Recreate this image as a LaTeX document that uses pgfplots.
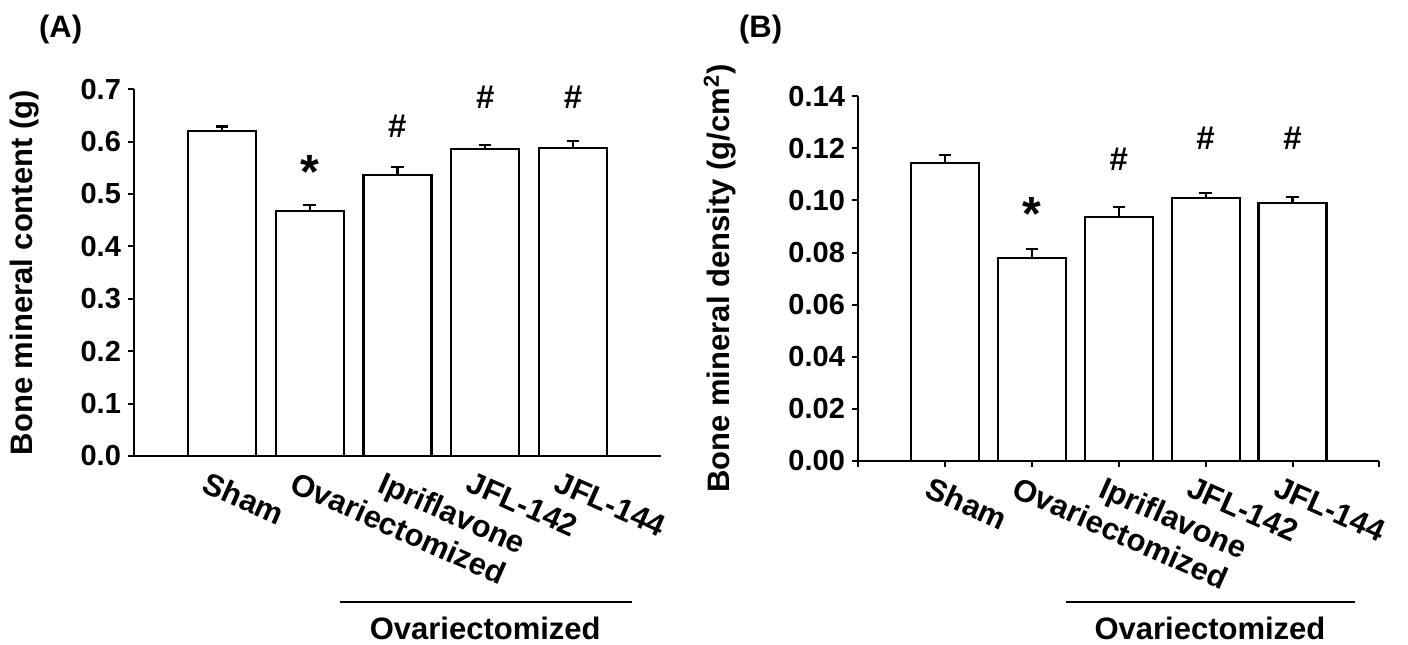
\documentclass[border=0pt]{standalone}
\usepackage{fontspec}
\setmainfont{Liberation Sans}
\usepackage{pgfplots}
\pgfplotsset{compat=1.18}
\tikzset{
  sigmark/.style={anchor=north, inner sep=0pt, font=\fontsize{16.5}{19}\selectfont\bfseries},
  starmark/.style={anchor=north, inner sep=0pt, font=\fontsize{24}{28}\selectfont\bfseries},
}
\begin{document}
\begin{tikzpicture}
\path[use as bounding box] (0,0) rectangle (704pt,322pt);
\pgfplotsset{
  myaxis/.style={
    scale only axis,
    anchor=south west,
    axis lines=left,
    axis line style={-, line width=1pt},
    xmin=0, xmax=6,
    ymin=0,
    clip=false,
    tick align=outside,
    major tick length=3pt,
    tick style={line width=1pt, black},
    font=\fontsize{15.5}{18}\selectfont\bfseries,
    tick label style={font=\fontsize{14.5}{17}\selectfont\bfseries},
    /pgf/number format/assume math mode=true,
    xtick={1,2,3,4,5},
    xticklabels={Sham,Ovariectomized,Ipriflavone,JFL-142,JFL-144},
    xticklabel style={xshift=-6pt, yshift=-4pt, rotate=-24, anchor=north west, inner sep=0pt, font=\fontsize{15.5}{18}\selectfont\bfseries},
    ybar, bar shift=0pt, bar width=34pt,
    error bars/y dir=plus, error bars/y explicit,
    error bars/error bar style={line width=1.1pt, black},
    error bars/error mark options={rotate=90, mark size=3.1pt, line width=1.1pt, black},
  },
}
% Panel A
\node[anchor=west, font=\fontsize{15.5}{18}\selectfont\bfseries] at (16pt,307.5pt) {(A)};
\begin{axis}[myaxis,
  at={(67pt,94pt)}, width=263.4pt, height=183.4pt,
  ymax=0.7, ytick={0,0.1,...,0.7},
  yticklabel style={/pgf/number format/.cd, fixed, fixed zerofill, precision=1},
  xtick style={draw=none},
  ylabel={Bone mineral content (g)},
  ylabel style={at={(axis description cs:-0.207,0.5)}, anchor=center, rotate=0},
]
\addplot[fill=white, draw=black, line width=1.1pt] coordinates {
  (1,0.621) +- (0,0.008)
  (2,0.467) +- (0,0.012)
  (3,0.536) +- (0,0.015)
  (4,0.586) +- (0,0.007)
  (5,0.588) +- (0,0.013)
};
\node[starmark] at (axis cs:2,0.574) {*};
\node[sigmark] at (axis cs:3,0.652) {\#};
\node[sigmark] at (axis cs:4,0.707) {\#};
\node[sigmark] at (axis cs:5,0.707) {\#};
\draw[line width=1.2pt] (axis cs:2.35,-0.279) -- (axis cs:5.67,-0.279);
\node[anchor=north, inner sep=0pt] at (axis cs:4.0,-0.307) {Ovariectomized};
\end{axis}
% Panel B
\node[anchor=west, font=\fontsize{15.5}{18}\selectfont\bfseries] at (366pt,307.5pt) {(B)};
\begin{axis}[myaxis,
  at={(429pt,91.5pt)}, width=260.7pt, height=182.4pt,
  ymax=0.14, ytick={0,0.02,...,0.14},
  yticklabel style={/pgf/number format/.cd, fixed, fixed zerofill, precision=2},
  xtick={0,1,2,3,4,5,6},
  xticklabels={,Sham,Ovariectomized,Ipriflavone,JFL-142,JFL-144,},
  ylabel={Bone mineral density (g/cm\textsuperscript{2})},
  ylabel style={at={(axis description cs:-0.265,0.5)}, anchor=center, rotate=0},
]
\addplot[fill=white, draw=black, line width=1.1pt] coordinates {
  (1,0.1143) +- (0,0.0032)
  (2,0.0778) +- (0,0.0036)
  (3,0.0935) +- (0,0.0040)
  (4,0.1009) +- (0,0.0019)
  (5,0.0991) +- (0,0.0023)
};
\node[starmark] at (axis cs:2,0.1012) {*};
\node[sigmark] at (axis cs:3,0.1202) {\#};
\node[sigmark] at (axis cs:4,0.1285) {\#};
\node[sigmark] at (axis cs:5,0.1285) {\#};
\draw[line width=1.2pt] (axis cs:2.39,-0.0541) -- (axis cs:5.72,-0.0541);
\node[anchor=north, inner sep=0pt] at (axis cs:4.05,-0.0599) {Ovariectomized};
\end{axis}
\end{tikzpicture}
\end{document}
